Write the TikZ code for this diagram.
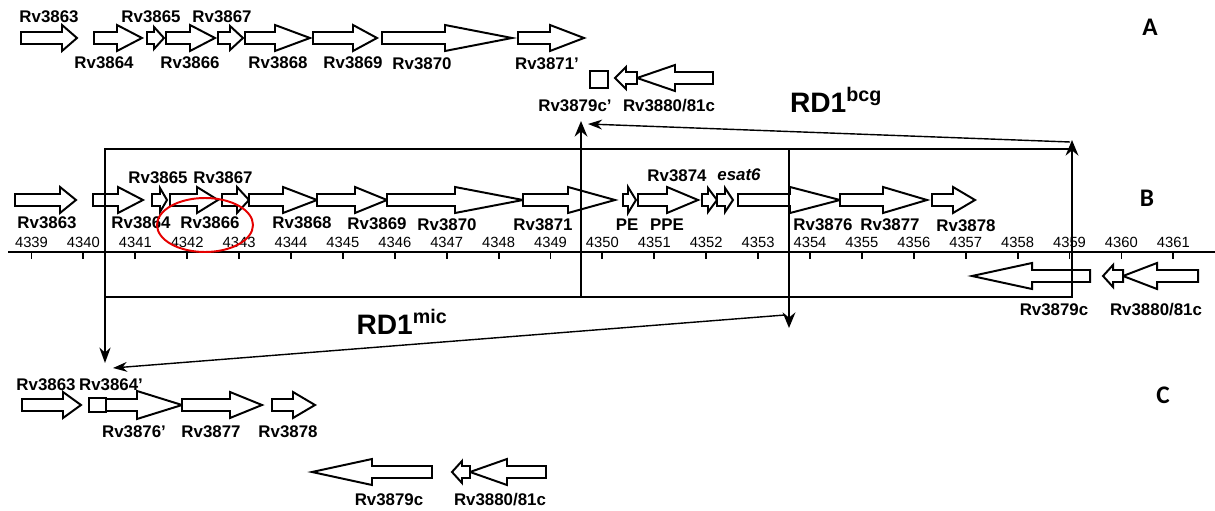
\documentclass[tikz,border=0pt]{standalone}
\usepackage{fontspec}
\setmainfont{Liberation Sans}
\newfontfamily\panelfont{Carlito}
\usetikzlibrary{arrows.meta}
\colorlet{genefill}{white}
\colorlet{ringcol}{red!90!black}
% gene arrow: tail x, head base x, tip x, centre y, head half-height
\newcommand{\gene}[5]{%
  \draw[gene] (#1,#4-6) -- (#2,#4-6) -- (#2,#4-#5) -- (#3,#4) -- (#2,#4+#5) -- (#2,#4+6) -- (#1,#4+6) -- cycle;}

\begin{document}
\begin{tikzpicture}[x=0.025cm, y=-0.025cm,
    gene/.style={draw, line width=1.4pt, fill=genefill, line join=miter},
    lab/.style={font=\fontsize{12}{14}\selectfont\bfseries, inner sep=0pt},
    ticklab/.style={font=\fontsize{10.5}{12}\selectfont, inner sep=0pt},
    panel/.style={font=\panelfont\fontsize{18}{20}\selectfont\bfseries, inner sep=0pt},
    rdlab/.style={font=\fontsize{20}{24}\selectfont\bfseries, inner sep=0pt},
    frame/.style={line width=1.9pt},
    cut/.style={line width=1.9pt, -{Stealth[length=11pt,width=9pt]}},
    link/.style={line width=1pt, -{Stealth[length=10pt,width=7pt]}},
    ring/.style={draw=ringcol, line width=1.4pt}]
  \useasboundingbox (0,0) rectangle (1215,511);

  % A: BCG
  \foreach \a/\b/\c/\h in {21/62/77/13, 94/117/142/13, 147/154/164/11, 166/190/215/13, 218/230/243/12,
      245/275/310/13, 313/353/377/13, 382/445/512/13, 518/550/584/13}
    {\gene{\a}{\b}{\c}{38}{\h}}
  \draw[gene] (590,71) rectangle (608,88);
  \gene{713}{675}{637}{78}{13}
  \gene{637}{626}{615}{78}{11}
  \node[lab] (a3863) at (49,17) {Rv3863};
  \node[lab] (a3865) at (151,17) {Rv3865};
  \node[lab] (a3867) at (222,17) {Rv3867};
  \node[lab] (a3864) at (104,63) {Rv3864};
  \node[lab] (a3866) at (190,63) {Rv3866};
  \node[lab] (a3868) at (278,63) {Rv3868};
  \node[lab] (a3869) at (353,63) {Rv3869};
  \node[lab] (a3870) at (422,64) {Rv3870};
  \node[lab] (a3871) at (547,64) {Rv3871'};
  \node[lab] (a3879) at (575,106) {Rv3879c'};
  \node[lab] (a3880) at (669,106) {Rv3880/81c};
  \node[panel] (pA) at (1150,27) {A};
  \node[rdlab] (rdbcg) at (836,100) {RD1\textsuperscript{bcg}};

  % B: H37Rv
  \foreach \a/\b/\c/\h in {15/60/76/13, 93/118/143/13, 152/160/167/12, 170/197/218/13, 222/237/249/13,
      249/283/317/13, 317/355/387/13, 387/455/523/13, 523/568/615/13, 623/628/636/13, 638/667/698/13,
      702/708/717/12, 717/725/733/12, 738/790/840/13, 840/883/927/13, 932/953/975/13}
    {\gene{\a}{\b}{\c}{200}{\h}}
  \gene{1090}{1032}{972}{276}{13}
  \gene{1198}{1157}{1123}{276}{13}
  \gene{1123}{1113}{1103}{276}{11}
  \node[lab] (b3863) at (47,223) {Rv3863};
  \node[lab] (b3864) at (141,223) {Rv3864};
  \node[lab] (b3866) at (210,223) {Rv3866};
  \node[lab] (b3865) at (158,178) {Rv3865};
  \node[lab] (b3867) at (223,178) {Rv3867};
  \node[lab] (b3868) at (302,223) {Rv3868};
  \node[lab] (b3869) at (377,224) {Rv3869};
  \node[lab] (b3870) at (447,225) {Rv3870};
  \node[lab] (b3871) at (543,225) {Rv3871};
  \node[lab] (bpe) at (627,225) {PE};
  \node[lab] (bppe) at (667,225) {PPE};
  \node[lab] (b3874) at (677,176) {Rv3874};
  \node[lab] (besat) at (739,175) {\itshape esat6};
  \node[lab] (b3876) at (823,225) {Rv3876};
  \node[lab] (b3877) at (890,225) {Rv3877};
  \node[lab] (b3878) at (966,226) {Rv3878};
  \node[lab] (b3879) at (1054,310) {Rv3879c};
  \node[lab] (b3880) at (1156,310) {Rv3880/81c};
  \node[panel] (pB) at (1147,198) {B};

  % genome scale
  \coordinate (axisL) at (8,252);
  \coordinate (axisR) at (1215,252);
  \draw[frame] (axisL) -- (axisR);
  \foreach \n in {4339,...,4361} {
    \pgfmathsetmacro\tx{31.5+(\n-4339)*51.9}
    \draw[line width=1.3pt] (\tx,253) -- (\tx,259);
    \node[ticklab] (t\n) at (\tx,242) {\n};
  }
  \draw[ring] (205,225) ellipse [x radius=48, y radius=27];

  % deleted regions
  \coordinate (micTL) at (105,149);
  \coordinate (bcgBR) at (1072,297);
  \coordinate (micBL) at (105,297);
  \coordinate (micDown) at (105,363);
  \coordinate (bcgBL) at (581,297);
  \coordinate (bcgUp) at (581,121);
  \coordinate (micTR) at (789,149);
  \coordinate (micRDown) at (789,328);
  \coordinate (bcgRUp) at (1072,140);
  \coordinate (bcgFrom) at (1070,142);
  \coordinate (bcgTo) at (588,124);
  \coordinate (micFrom) at (785,315);
  \coordinate (micTo) at (113,368);
  \draw[frame] (micTL) rectangle (bcgBR);
  \draw[line width=1.2pt, -{Stealth[length=11pt,width=8pt]}] (micBL) -- (micDown);
  \draw[cut] (bcgBL) -- (bcgUp);
  \draw[cut] (micTR) -- (micRDown);
  \draw[cut] (bcgBR) -- (bcgRUp);
  \draw[link] (bcgFrom) -- (bcgTo);
  \draw[link] (micFrom) -- (micTo);
  \node[rdlab] (rdmic) at (402,322) {RD1\textsuperscript{mic}};

  % C: M. microti
  \foreach \a/\b/\c/\h in {22/63/81/13, 106/137/182/14, 182/230/262/13, 272/293/315/13}
    {\gene{\a}{\b}{\c}{405}{\h}}
  \draw[gene] (89,398) rectangle (106,412);
  \gene{432}{372}{312}{472}{13}
  \gene{546}{507}{470}{472}{13}
  \gene{470}{462}{452}{472}{11}
  \node[lab] (c3863) at (46,385) {Rv3863};
  \node[lab] (c3864) at (111,385) {Rv3864'};
  \node[lab] (c3876) at (134,432) {Rv3876'};
  \node[lab] (c3877) at (211,432) {Rv3877};
  \node[lab] (c3878) at (288,432) {Rv3878};
  \node[lab] (c3879) at (389,500) {Rv3879c};
  \node[lab] (c3880) at (500,500) {Rv3880/81c};
  \node[panel] (pC) at (1163,395) {C};
\end{tikzpicture}
\end{document}
